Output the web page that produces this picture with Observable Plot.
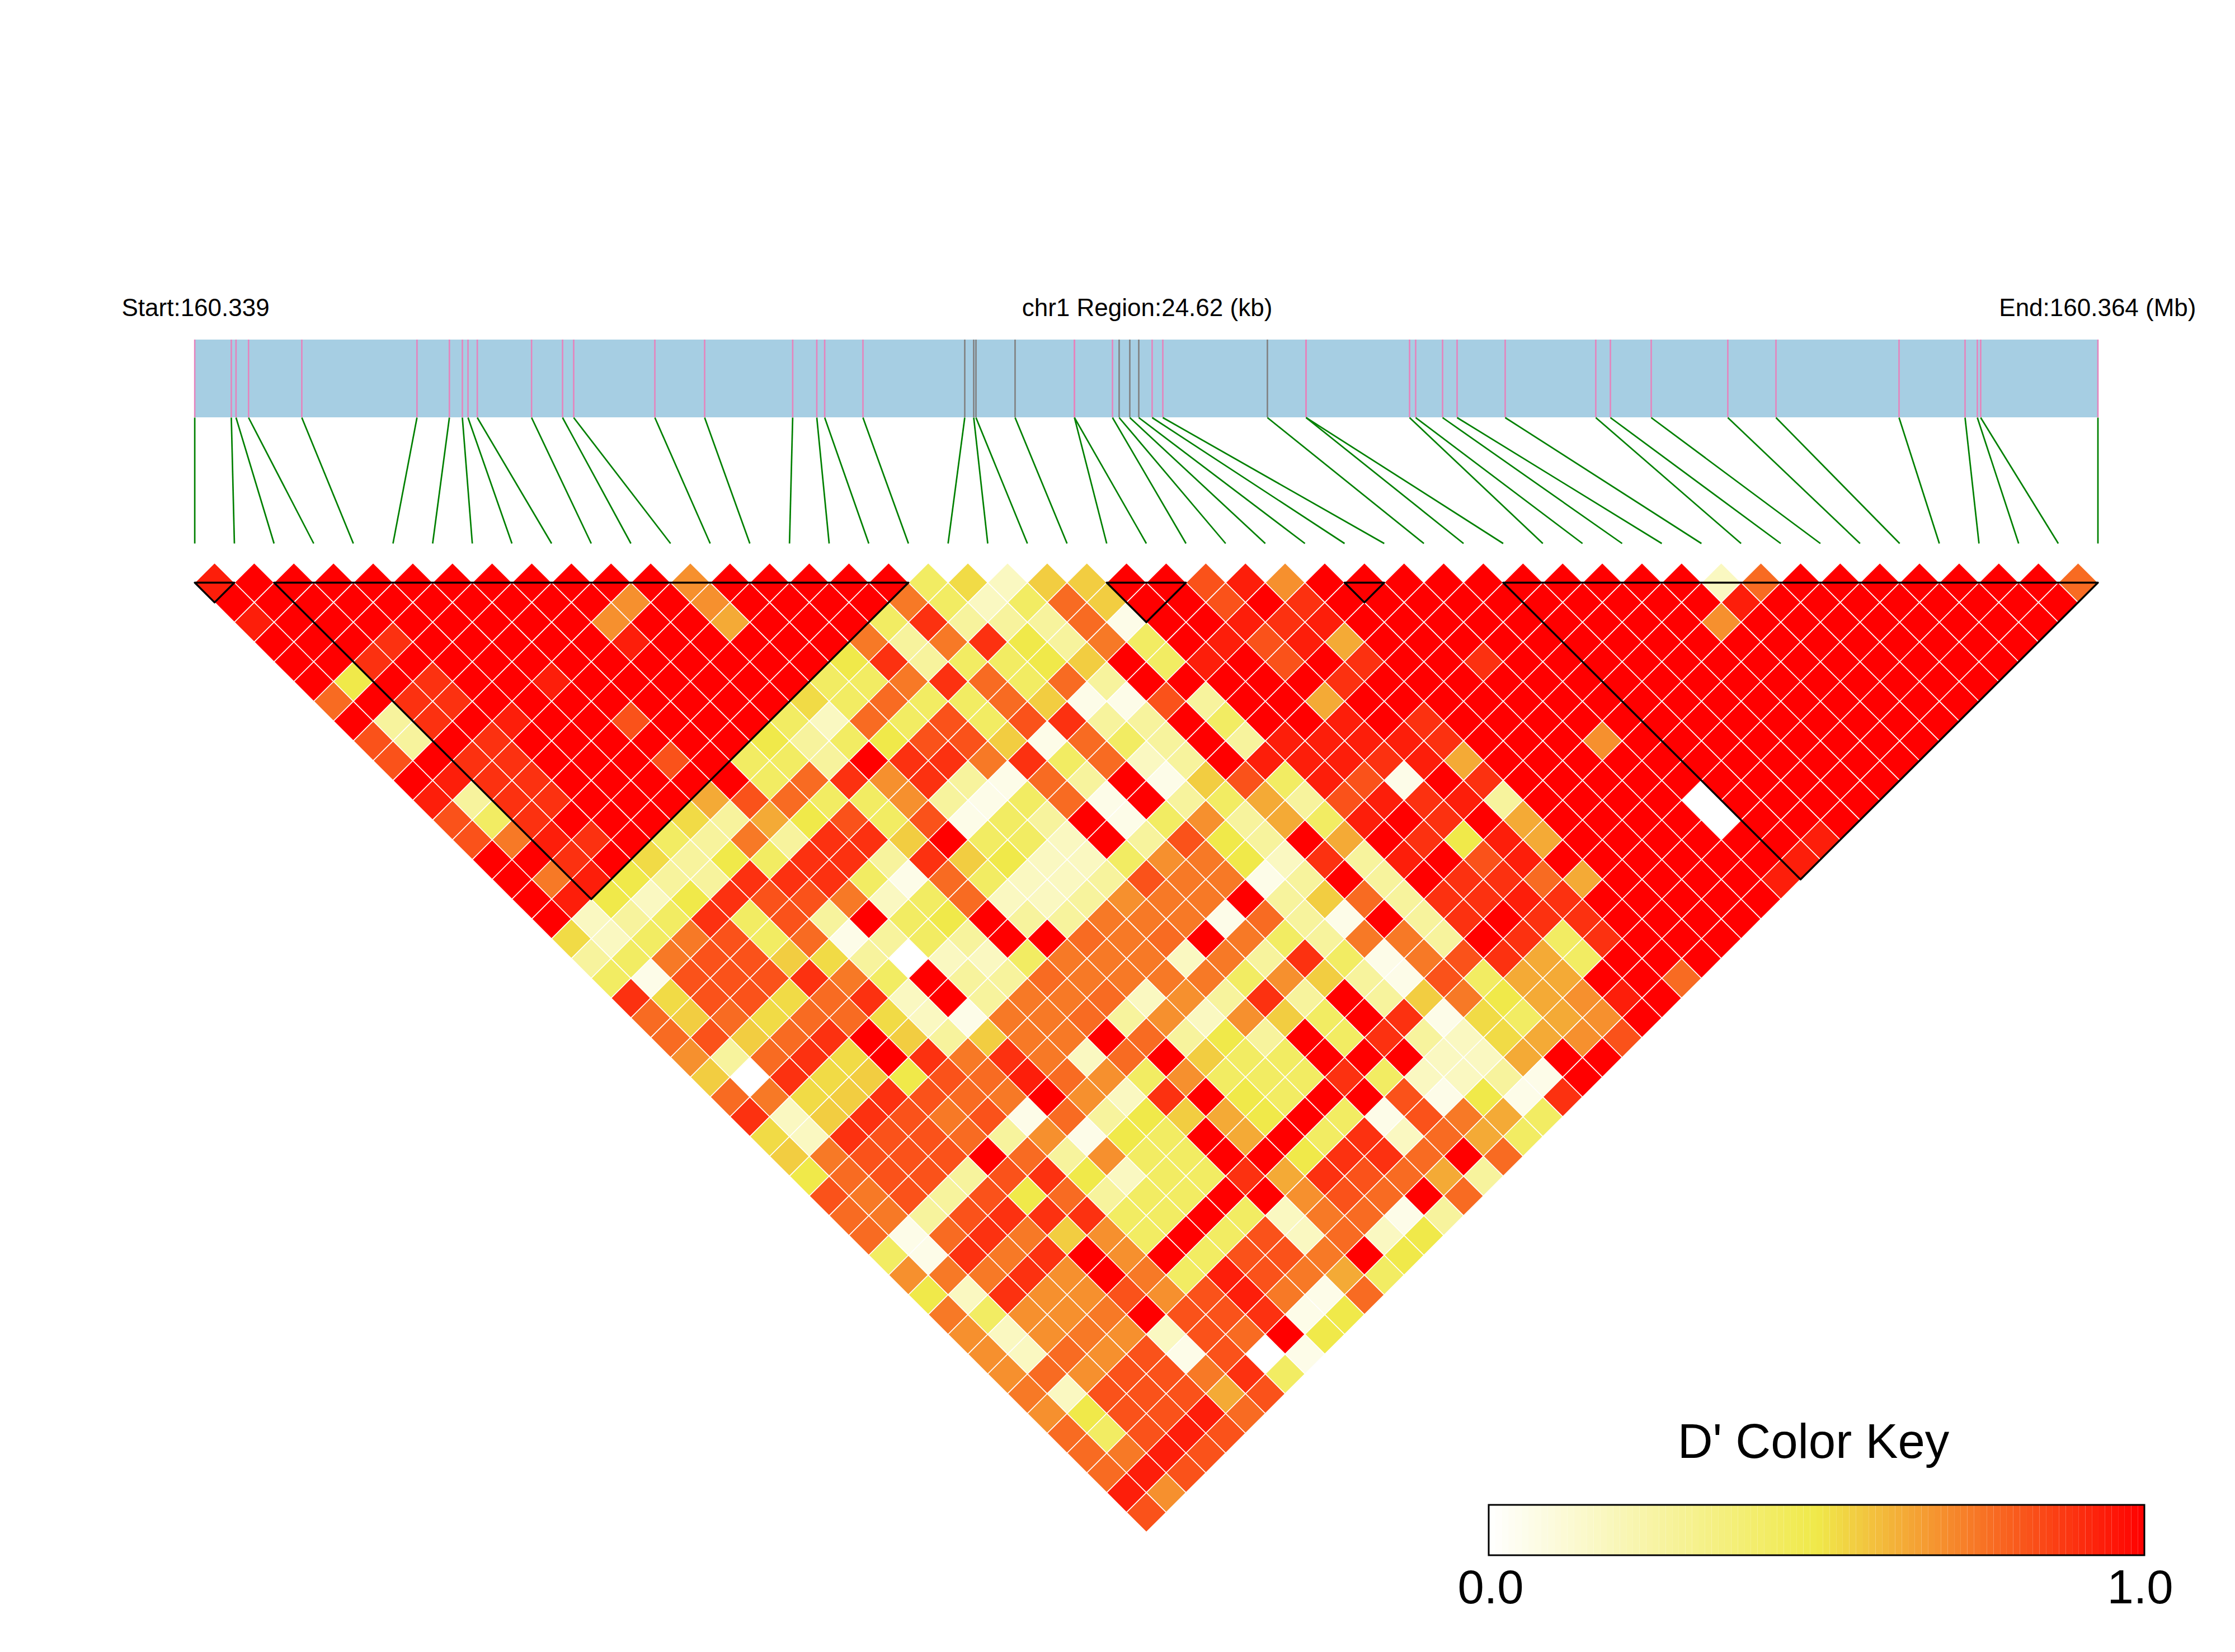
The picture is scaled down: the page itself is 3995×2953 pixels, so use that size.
<!DOCTYPE html>
<html>
<head>
<meta charset="utf-8">
<script src="https://cdn.jsdelivr.net/npm/d3@7"></script>
<script src="https://cdn.jsdelivr.net/npm/@observablehq/plot@0.6"></script>
<style>html,body{margin:0;padding:0;background:#fff}svg{display:block}</style>
</head>
<body>
<div id="chart"></div>
<script>
// SNP positions along the region, kb from the start (160.339 Mb)
const regionKb = 24.62;
const snpKb = [0,0.473,0.534,0.696,1.385,2.875,3.294,3.462,3.535,3.655,4.357,4.758,4.902,5.952,6.596,7.735,8.047,8.149,8.644,9.961,10.077,10.106,10.612,11.380,11.380,11.872,11.958,12.096,12.212,12.385,12.523,13.876,14.376,14.376,15.715,15.794,16.142,16.330,16.952,18.124,18.313,18.841,19.832,20.455,22.047,22.901,23.060,23.103,24.62];
// SNPs drawn with a grey tick rather than a pink one
const greySnps = [19,20,21,22,26,27,28,31];
// Haplotype blocks as [first SNP, last SNP]
const blocks = [[0,1],[2,18],[23,25],[29,30],[33,48]];
// D' levels used in the rows below
const levelCodes = "0123456789abcdeg";
const levelValues = [0,0.064,0.17,0.27,0.43,0.5,0.56,0.635,0.69,0.74,0.77,0.825,0.895,0.935,1,0.53];
// D' per row of the triangle: row k holds the pairs (i, i+k+1), left to right
const dPrimeRows = [
"d eeeeeeeeeee 8 eeeee 4g266 ee b d 8 eeeeeeeeee 2 a eeeeeee a",
"eeeeeeeeee 8 e 8 eeee 9 4 2 4 a 6 ee b e c eeeeeeeeee d eeeeeeee",
"d eeeeeeee 8 ee 7 eee 4 c 333 a 1 ee d c d eeeeeeeee 8 eeeeeeee",
"eee c eeeee d eeeee 9 3 9 c 5 3 9 4 e d b d 7 eeeeeeeeeeeeeeeee",
"ee c eeeeeeeeeee 5 c 3 4 4 5 6 e 4 d e b e c ee c eeeeeeeeeeeee",
"e 5 e c ee d eeeeee 4 4 9 c a 4 a 3 eeeee c eeeeeeeeeeeeeeee",
"a e c c eeeeeeee g 4 a 4 4 a 6 1 1 b 3 ee 7 eeeeeeeeeeeeeeee",
"e 3 c e d ee b eee 4 2 a 4 b 4 b c 3 3 e 4 ee d e c eeeeeeeeeeeee",
"b 3 e c eeeeee 5 3 4 5 b b 6 1 a 4 3 e 3 d d d d c eee 8 eeeeeeee",
"b e c c eee b e 4 4 3 e c c 9 c 4 a 2 3 e d d d c d 7 eeeeeeeeeee",
"e d c c eeeee 4 a c 8 c 3 1 a 3 e 1 6 b 4 d b 1 e c eeeeeeeeee",
"d 3 c c eee 7 b a 4 4 8 3 1 4 a 1 e 3 4 7 3 b d c d 3 eeee 0 eeee",
"b 4 c eee g 3 7 5 b 4 b 1 4 3 e 1 4 8 3 7 4 d e c e 7 eeee 0 eee",
"b 9 d c e 4 3 9 3 c c 6 e 4 4 2 e 3 b 5 3 e 7 e c 5 d 7 eeeeee d",
"ee c e g 3 5 4 c c 3 c 6 5 2 2 4 8 9 5 2 c 3 d e b d eeeeee d",
"e 9 d 5 3 3 c c c 4 1 a 4 2 2 3 b 9 9 1 3 e 3 e c c a 7 eeee d",
"e d 5 2 5 c b b 9 2 4 a 2 2 3 8 9 9 e 3 6 a 3 c c d c eeeee",
"e 2 3 4 c 4 b 3 e 4 5 e 3 3 9 9 9 1 a 3 1 e 3 c e c c eeee",
"g 2 4 9 b 4 a 1 3 4 3 e e a 9 a e 9 4 3 9 9 3 e c 4 c eee",
"3 4 9 b b 6 g 3 0 2 2 4 9 9 9 2 9 3 c 4 1 9 b c 7 4 eee",
"4 1 b b b c 9 4 e 3 3 a 9 9 9 9 4 8 6 3 1 b 4 7 7 e e a",
"c g b b g a c 2 e 3 9 9 a 2 8 3 c 3 e 3 6 9 5 7 8 d e",
"a 6 a g a a g 2 1 9 9 a 3 8 2 8 6 4 e c 1 g 4 7 8 e",
"a b 6 a c e 6 3 6 9 9 e a 3 5 3 e 4 c 3 2 g 7 8 b",
"8 3 a c g e c 9 c 9 2 a e 6 4 4 e e e 2 2 7 e e",
"6 0 c g 6 5 b a d a 8 4 8 4 4 4 c 4 2 2 3 1 e",
"a 9 g 6 c b a 9 e 8 2 c e 5 4 e e b 1 5 1 c",
"c 2 6 c b 9 b 1 a 3 5 6 7 5 e 4 1 b 9 7 4",
"g 2 c b b a 3 8 1 5 4 e 7 e 4 c 2 a 7 4",
"6 9 b b b e a 3 8 4 4 e e 5 c c a e a",
"5 a b b 3 b c 5 2 4 4 c 7 c b a 7 3",
"b 9 b 3 b 5 a 3 4 4 e e 8 b a e a",
"a 9 3 b c c c 4 4 e 4 2 9 a 1 3",
"a 1 a c 9 6 8 4 e 4 b 2 a 2 5",
"4 1 c 9 c e 8 e 4 b b 9 e 5",
"8 9 9 c 8 e 9 4 d b 9 7 4",
"5 2 c 8 8 b 8 b d 9 1 a",
"9 4 8 8 9 e b b c 1 5",
"8 2 8 9 8 2 b a e 5",
"8 2 a 8 b 1 b 0 1",
"8 a 8 b b 9 c 4",
"9 2 b b b 7 b",
"8 5 b b d a",
"a 4 b d b",
"a 9 d b",
"a d b",
"d 8",
"b"
];
const titleStart = "Start:160.339";
const titleMid = "chr1 Region:24.62 (kb)";
const titleEnd = "End:160.364 (Mb)";
const keyTitle = "D' Color Key";
const keyLabels = ["0.0", "1.0"];

// ---- layout (pixel anchors turned into scale units) ----
const X0 = 347.6, X1 = 3749.5, Y0 = 1041, Y47 = 2703;
const ux = (px) => (px - X0) / ((X1 - X0) / 48);
const uy = (py) => (py - Y0) / ((Y47 - Y0) / 47);
const FONT = "Liberation Sans, Arial, sans-serif";
const halfDiag = 35.4;
const diamond = {draw(c, size) {
  const r = Math.sqrt(size / Math.PI);
  c.moveTo(0, -r); c.lineTo(r, 0); c.lineTo(0, r); c.lineTo(-r, 0); c.closePath();
}};

// ---- tables built from the arrays ----
const cells = [];
dPrimeRows.forEach((row, k) => {
  const codes = row.replace(/ /g, "");
  if (codes.length !== 48 - k) throw new Error("row " + k + " has " + codes.length);
  [...codes].forEach((ch, i) => {
    cells.push({snpA: i, snpB: i + k + 1, k, v: levelValues[levelCodes.indexOf(ch)]});
  });
});
const snps = snpKb.map((kb, i) => ({i, bar: kb / regionKb * 48, grey: greySnps.includes(i)}));
const blockLines = blocks.flatMap(([a, b], id) => [
  {id, x: a, y: 0}, {id, x: b, y: 0}, {id, x: (a + b) / 2, y: b - a}, {id, x: a, y: 0}
]);
const keySteps = d3.range(100).map((n) => ({t: (n + 0.5) / 100, a: n / 100, b: (n + 1) / 100}));
const keyX = (t) => ux(2661 + t * (3833 - 2661));

const chart = Plot.plot({
  width: 3995, height: 2953,
  marginTop: 0, marginRight: 0, marginBottom: 0, marginLeft: 0,
  x: {domain: [0, 48], range: [X0, X1], axis: null},
  y: {domain: [0, 47], range: [Y0, Y47], axis: null},
  color: {type: "linear", domain: [0, 0.5, 1], range: ["#ffffff", "#f0e94a", "#ff0000"]},
  style: {background: "#fff", fontFamily: FONT},
  marks: [
    // gene track
    Plot.rect([0], {x1: 0, x2: 48, y1: uy(607), y2: uy(746), fill: "#a6cee3"}),
    Plot.ruleX(snps, {x: "bar", y1: uy(607), y2: uy(746), strokeWidth: 2.6,
      stroke: (d) => d.grey ? "#808080" : "#e584bd"}),
    Plot.link(snps, {x1: "bar", x2: "i", y1: uy(746), y2: uy(971), stroke: "#008000", strokeWidth: 2.7}),
    // LD triangle
    Plot.dot(cells, {x: (d) => (d.snpA + d.snpB) / 2, y: "k", fill: "v", r: halfDiag, symbol: diamond,
      stroke: "#fff", strokeWidth: 1.6}),
    Plot.line(blockLines, {x: "x", y: "y", z: "id", stroke: "#000", strokeWidth: 3.4, curve: "linear"}),
    // titles
    Plot.text([titleStart], {text: (d) => d, x: ux(217), y: uy(564), textAnchor: "start", lineAnchor: "bottom", fontSize: 44, fill: "#000"}),
    Plot.text([titleMid], {text: (d) => d, x: ux(2050), y: uy(564), textAnchor: "middle", lineAnchor: "bottom", fontSize: 44, fill: "#000"}),
    Plot.text([titleEnd], {text: (d) => d, x: ux(3925), y: uy(564), textAnchor: "end", lineAnchor: "bottom", fontSize: 44, fill: "#000"}),
    // colour key
    Plot.rect(keySteps, {x1: (d) => keyX(d.a), x2: (d) => keyX(d.b), y1: uy(2690), y2: uy(2780), fill: "t"}),
    Plot.rect([0], {x1: keyX(0), x2: keyX(1), y1: uy(2690), y2: uy(2780), fill: "none", stroke: "#000", strokeWidth: 3}),
    Plot.text([keyTitle], {text: (d) => d, x: ux(3241), y: uy(2605), textAnchor: "middle", lineAnchor: "bottom", fontSize: 87, fill: "#000"}),
    Plot.text(keyLabels, {text: (d) => d, x: (d, i) => ux(i ? 3825 : 2664), y: uy(2865), textAnchor: "middle", lineAnchor: "bottom", fontSize: 85, fill: "#000"})
  ]
});
document.getElementById("chart").appendChild(chart);
</script>
</body>
</html>
